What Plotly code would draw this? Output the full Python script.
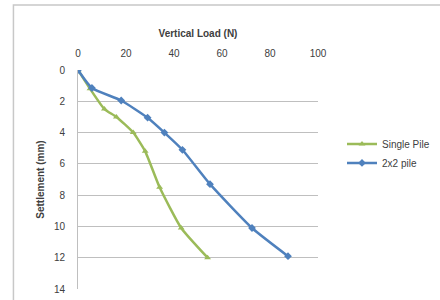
import plotly.graph_objects as go

single_load = [0, 5, 11, 16, 23, 28, 34, 43, 54]
single_settle = [0, 1.2, 2.5, 3.0, 4.0, 5.2, 7.5, 10.1, 12.0]
group_load = [0, 5.8, 18, 29, 36, 43.5, 55, 72.5, 87.5]
group_settle = [0, 1.15, 1.95, 3.05, 4.0, 5.1, 7.3, 10.1, 11.9]

x_ticks = [0, 20, 40, 60, 80, 100]
y_ticks = [0, 2, 4, 6, 8, 10, 12, 14]

fig = go.Figure()
fig.add_trace(go.Scatter(x=single_load, y=single_settle, name="Single Pile", mode="lines+markers",
                         line=dict(color="#9BBB59", width=2.5, shape="spline", smoothing=0.5),
                         marker=dict(symbol="triangle-up", size=6, color="#9BBB59")))
fig.add_trace(go.Scatter(x=group_load, y=group_settle, name="2x2 pile", mode="lines+markers",
                         line=dict(color="#4F81BD", width=2.5, shape="spline", smoothing=0.5),
                         marker=dict(symbol="diamond", size=6, color="#4F81BD")))

fig.update_layout(
    width=440, height=300,
    margin=dict(l=78, r=122, t=70, b=11, autoexpand=False),
    paper_bgcolor="white", plot_bgcolor="white",
    font=dict(family="Liberation Sans, Arial, sans-serif", size=10, color="#404040"),
    xaxis=dict(range=[0, 100], tickvals=x_ticks, side="top", showgrid=False, zeroline=False,
               showline=False, ticks="", ticklabelstandoff=10, automargin=False,
               title=dict(text="<b>Vertical Load (N)</b>", font=dict(size=10), standoff=8)),
    yaxis=dict(range=[14, 0], tickvals=y_ticks, showgrid=True, gridcolor="#BFBFBF", gridwidth=1,
               zeroline=False, showline=True, linecolor="#BFBFBF", ticks="", ticklabelstandoff=10,
               automargin=False,
               title=dict(text="<b>Settlement (mm)</b>", font=dict(size=10), standoff=7)),
    legend=dict(x=1.1, y=0.619, xanchor="left", yanchor="middle", font=dict(size=10),
                bgcolor="rgba(0,0,0,0)", tracegroupgap=0, itemwidth=30),
    showlegend=True,
)
fig.add_shape(type="rect", xref="paper", yref="paper", x0=-0.269, x1=1.6, y0=-0.2, y1=1.297,
              line=dict(color="#C8C8C8", width=1.5), layer="below")

fig.write_html("out.html", config={"displayModeBar": False},
               post_script="document.body.style.margin='0';")
